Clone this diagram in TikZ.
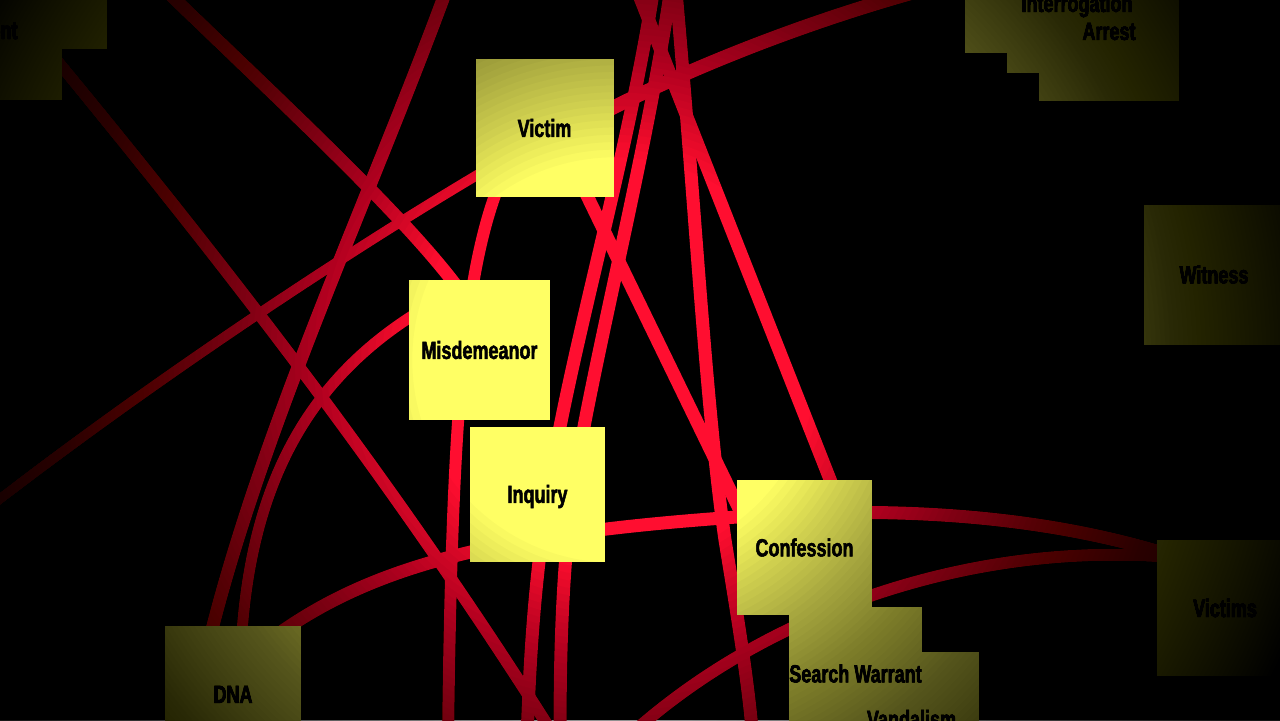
\documentclass[tikz,border=0pt]{standalone}
\usepackage{fontspec}
\newfontfamily\lblfont{Liberation Sans}[FakeStretch=0.72,BoldFeatures={FakeBold=2}]
\definecolor{edgered}{RGB}{255,14,48}
\definecolor{boxyel}{RGB}{255,255,100}
\begin{document}
\begin{tikzpicture}[x=0.5pt,y=-0.5pt,
  card/.style={fill=boxyel, draw=none, inner sep=0pt, minimum width=#1, minimum height=#1},
  card/.default=69pt,
  lbl/.style={font=\lblfont\bfseries\fontsize{12.5}{14}\selectfont, text=black, inner sep=0pt, text height=8.95pt, text depth=0pt},
  link/.style={draw=edgered, line width=#1},
  link/.default=6pt,
  shade layer/.style={fill=black, fill opacity=0.0247, even odd rule}]
\useasboundingbox (0,0) rectangle (1280,720);
\begin{scope}
\clip (0,0) rectangle (1280,720);
\fill[black] (0,0) rectangle (1280,720);

% ---- connector end points ----
\coordinate (a0) at (40,40);     \coordinate (a1) at (560,745);
\coordinate (b0) at (155,-20);   \coordinate (b1) at (470,305);
\coordinate (c0) at (450,-20);   \coordinate (c1) at (200,680);
\coordinate (d0) at (430,305);   \coordinate (d1) at (240,690);
\coordinate (e0) at (520,150);   \coordinate (e1) at (-40,530);
\coordinate (i0) at (570,130);   \coordinate (i1) at (960,-20);
\coordinate (j0) at (560,140);   \coordinate (j1) at (764,560);
\coordinate (h10) at (655,-20);  \coordinate (h1m) at (548,494); \coordinate (h11) at (527,740);
\coordinate (h20) at (672,-20);  \coordinate (h2m) at (572,494); \coordinate (h21) at (560,740);
\coordinate (h40) at (675,-20);  \coordinate (h4m) at (725,540); \coordinate (h41) at (753,740);
\coordinate (h50) at (633,-20);  \coordinate (h51) at (848,525);
\coordinate (k0) at (505,170);   \coordinate (k1) at (448,740);
\coordinate (f0) at (245,660);   \coordinate (fm) at (737,517);  \coordinate (f1) at (1200,565);
\coordinate (g0) at (1200,560);  \coordinate (g1) at (630,735);
\coordinate (spot) at (615,360);

% ---- connectors ----
\draw[link=6pt] (a0) .. controls (230,270) and (400,490) .. (a1);
\draw[link=6.5pt] (b0) .. controls (300,120) and (420,230) .. (b1);
\draw[link=6.5pt] (c0) .. controls (370,200) and (250,450) .. (c1);
\draw[link=5.5pt] (d0) .. controls (300,380) and (240,500) .. (d1);
\draw[link=5pt] (e0) .. controls (380,230) and (150,380) .. (e1);
\draw[link=7pt] (i0) .. controls (680,70) and (820,15) .. (i1);
\draw[link=6.5pt] (j0) -- (j1);
\draw[link=6.5pt] (h10) .. controls (630,150) and (570,350) .. (h1m) .. controls (535,580) and (530,650) .. (h11);
\draw[link=6.5pt] (h20) .. controls (648,150) and (595,350) .. (h2m) .. controls (562,580) and (560,650) .. (h21);
\draw[link=6.5pt] (h40) .. controls (695,200) and (705,400) .. (h4m) .. controls (738,620) and (748,680) .. (h41);
\draw[link=6.5pt] (h50) -- (h51);
\draw[link=6pt] (k0) .. controls (465,260) and (452,400) .. (k1);
\draw[link=6.5pt] (f0) .. controls (350,570) and (480,535) .. (fm) .. controls (900,505) and (1060,515) .. (f1);
\draw[link=6pt] (g0) .. controls (1000,535) and (780,600) .. (g1);

% ---- cards ----
\node[card=70pt] (tla) at (37,-21) {};
\node[card=70pt] (tlb) at (-8,30) {};
\node[card=70pt] (tra) at (1035,-17) {};
\node[card=70pt] (interrogation) at (1077,3) {};
\node[card=70pt] (arrest) at (1109,31) {};
\node[card=70pt] (witness) at (1214,274.5) {};
\node[card=68pt] (victims) at (1225,608) {};
\node[card=69pt] (victim) at (544.5,128) {};
\node[card=70.3pt] (misdemeanor) at (479.5,350) {};
\node[card=67.5pt] (inquiry) at (537.5,494) {};
\node[card=67.5pt] (vandalism) at (911.5,719) {};
\node[card=66.5pt] (searchwarrant) at (855.5,673.5) {};
\node[card=67.5pt] (confession) at (804.5,547.5) {};
\node[card=68pt] (dna) at (233,694) {};

% ---- labels ----
\node[lbl] (tlb-t) at (tlb) {Agent};
\node[lbl] (interrogation-t) at (interrogation) {Interrogation};
\node[lbl] (arrest-t) at (arrest) {Arrest};
\node[lbl] (witness-t) at (witness) {Witness};
\node[lbl] (victims-t) at (victims) {Victims};
\node[lbl] (victim-t) at (victim) {Victim};
\node[lbl] (misdemeanor-t) at (misdemeanor) {Misdemeanor};
\node[lbl] (inquiry-t) at (inquiry) {Inquiry};
\node[lbl] (vandalism-t) at (vandalism) {Vandalism};
\node[lbl] (searchwarrant-t) at (searchwarrant) {Search Warrant};
\node[lbl] (confession-t) at (confession) {Confession};
\node[lbl] (dna-t) at (dna) {DNA};

% ---- spotlight fall-off: stacked translucent layers with growing holes ----
\foreach \k in {1,...,144}{
  \pgfmathsetmacro\rr{0.5*(195+100*(sqrt(0.1024+0.1212*0.025*\k)-0.32)/0.0606)}
  \fill[shade layer] (-100,-100) rectangle (1380,820) (spot) circle [radius=\rr pt];
}
\end{scope}
\end{tikzpicture}
\end{document}
